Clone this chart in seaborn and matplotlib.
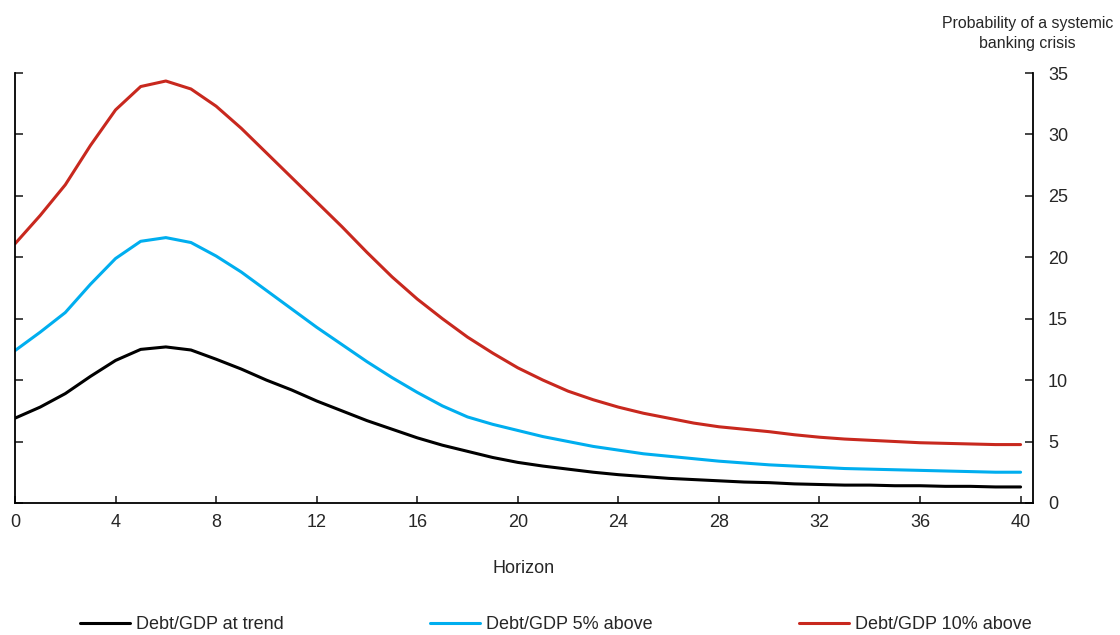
import numpy as np
import pandas as pd
import matplotlib
matplotlib.use("Agg")
import matplotlib.pyplot as plt
import seaborn as sns

sns.set_style("white")
plt.rcParams["font.family"] = ["Liberation Sans", "DejaVu Sans"]

# quarters after the shock
horizon = list(range(0, 41))

# probability of a systemic banking crisis (%)
at_trend = [6.9, 7.8, 8.9, 10.3, 11.6, 12.5, 12.7, 12.45, 11.7, 10.9,
            10.0, 9.2, 8.3, 7.5, 6.7, 6.0, 5.3, 4.7, 4.2, 3.7,
            3.3, 3.0, 2.75, 2.5, 2.3, 2.15, 2.0, 1.9, 1.8, 1.7,
            1.65, 1.55, 1.5, 1.45, 1.45, 1.4, 1.4, 1.35, 1.35, 1.3, 1.3]
above_5 = [12.4, 13.9, 15.5, 17.8, 19.9, 21.3, 21.6, 21.2, 20.1, 18.8,
           17.3, 15.8, 14.3, 12.9, 11.5, 10.2, 9.0, 7.9, 7.0, 6.4,
           5.9, 5.4, 5.0, 4.6, 4.3, 4.0, 3.8, 3.6, 3.4, 3.25,
           3.1, 3.0, 2.9, 2.8, 2.75, 2.7, 2.65, 2.6, 2.55, 2.5, 2.5]
above_10 = [21.1, 23.4, 25.9, 29.1, 32.0, 33.9, 34.35, 33.7, 32.3, 30.5,
            28.5, 26.5, 24.5, 22.5, 20.4, 18.4, 16.6, 15.0, 13.5, 12.2,
            11.0, 10.0, 9.1, 8.4, 7.8, 7.3, 6.9, 6.5, 6.2, 6.0,
            5.8, 5.55, 5.35, 5.2, 5.1, 5.0, 4.9, 4.85, 4.8, 4.75, 4.75]

series_names = ["Debt/GDP at trend", "Debt/GDP 5% above", "Debt/GDP 10% above"]
colors = ["#000000", "#00AEEF", "#C8281E"]

df = pd.concat([
    pd.DataFrame({"Horizon": horizon, "Probability": vals, "Series": name})
    for name, vals in zip(series_names, [at_trend, above_5, above_10])
])

fig = plt.figure(figsize=(11.2, 6.35), dpi=100)
ax = fig.add_axes([0.0134, 0.208, 0.9086, 0.677])

sns.lineplot(data=df, x="Horizon", y="Probability", hue="Series",
             palette=dict(zip(series_names, colors)), linewidth=2.2, ax=ax)

ax.set_xlim(0, 40.48)
ax.set_ylim(0, 35)
ax.set_xticks(range(0, 41, 4))
ax.set_yticks(range(0, 36, 5))

# y axis on the right with labels, plain left spine with ticks only
ax.spines["top"].set_visible(False)
for s in ["left", "right", "bottom"]:
    ax.spines[s].set_visible(True)
    ax.spines[s].set_color("black")
    ax.spines[s].set_linewidth(1.3)
ax.tick_params(axis="x", direction="in", length=5, width=1.2, pad=8,
               labelsize=13, bottom=True)
ax.tick_params(axis="y", direction="in", length=6, width=1.2, pad=11,
               labelsize=13, left=True, right=True,
               labelleft=False, labelright=True)

ax.set_xlabel("Horizon", fontsize=13, labelpad=21)
ax.set_ylabel("")

fig.text(0.994, 0.919, "Probability of a systemic\nbanking crisis",
         ha="right", va="bottom", ma="center", fontsize=11.4,
         linespacing=1.45)

ax.legend_.remove()
handles, labels = ax.get_legend_handles_labels()
fig.legend(handles, labels, loc="center", bbox_to_anchor=(0.496, 0.016),
           ncol=3, frameon=False, fontsize=13, handlelength=2.8,
           handletextpad=0.3, columnspacing=8.1)

fig.savefig("out.png", dpi=100)
